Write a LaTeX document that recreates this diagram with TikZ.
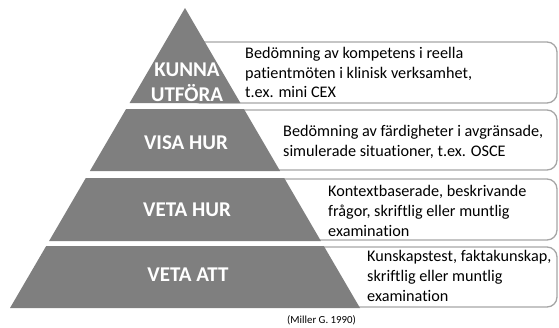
\documentclass[tikz,border=0pt]{standalone}
\usepackage{fontspec}
\setmainfont{Carlito}[Ligatures=NoCommon]
\definecolor{pyr}{HTML}{7F7F7F}
\definecolor{boxline}{HTML}{A6A6A6}
\begin{document}
\begin{tikzpicture}[x=1pt,y=-1pt,
  infobox/.style={draw=boxline, line width=1.3pt, fill=white, rounded corners=10pt},
  infotext/.style={anchor=west, align=left, inner sep=0pt, font=\fontsize{16.2}{19.8}\selectfont, text=black},
  level/.style={text=white, align=center, inner sep=0pt, font=\fontsize{21}{25}\selectfont\bfseries},
  band/.style={fill=pyr, draw=none}]
\useasboundingbox (0,0) rectangle (559,327);
% boxes
\draw[infobox] (190,42) rectangle (557,103);
\draw[infobox] (200,110) rectangle (557,170);
\draw[infobox] (200,179) rectangle (557,240);
\draw[infobox] (200,247) rectangle (557,307);
% pyramid bands
\fill[band] (185,8) -- (240.4,103) -- (129.6,103) -- cycle;
\fill[band] (126.1,109) -- (243.9,109) -- (280.1,171) -- (89.9,171) -- cycle;
\fill[band] (85.8,178) -- (284.2,178) -- (320.9,241) -- (49.1,241) -- cycle;
\fill[band] (46.2,246) -- (323.8,246) -- (360,308) -- (10,308) -- cycle;
% labels
\node[level] (l1) at (187,82) {KUNNA\\UTFÖRA};
\node[level] (l2) at (186,143) {VISA HUR};
\node[level] (l3) at (187,210) {VETA HUR};
\node[level] (l4) at (188,275) {VETA ATT};
% texts
\node[infotext] (t1) at (245,72.5) {Bedömning av kompetens i reella\\patientmöten i klinisk verksamhet,\\t.ex. mini CEX};
\node[infotext] (t2) at (283,142) {Bedömning av färdigheter i avgränsade,\\simulerade situationer, t.ex. OSCE};
\node[infotext] (t3) at (328,211) {Kontextbaserade, beskrivande\\frågor, skriftlig eller muntlig\\examination};
\node[infotext] (t4) at (367,276) {Kunskapstest, faktakunskap,\\skriftlig eller muntlig\\examination};
\node[anchor=west, inner sep=0pt, font=\fontsize{10.8}{12}\selectfont] (cap) at (287,320) {(Miller G. 1990)};
\end{tikzpicture}
\end{document}
